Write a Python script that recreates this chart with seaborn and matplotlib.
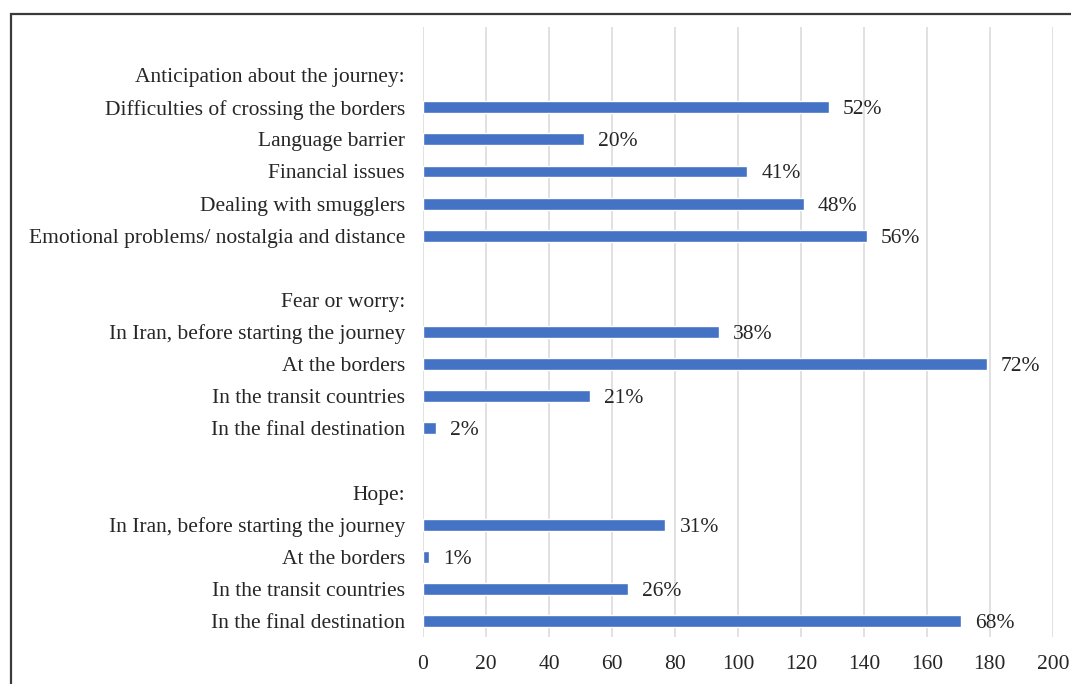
import matplotlib
matplotlib.use("Agg")
import matplotlib.pyplot as plt
from matplotlib.patches import Rectangle
import pandas as pd
import seaborn as sns

# Survey responses (counts) with the share printed beside each bar
group_titles = ["Anticipation about the journey:", "Fear or worry:", "Hope:"]

anticipation_items = [
    "Difficulties of crossing the borders",
    "Language barrier",
    "Financial issues",
    "Dealing with smugglers",
    "Emotional problems/ nostalgia and distance",
]
anticipation_counts = [129, 51, 103, 121, 141]
anticipation_pct = ["52%", "20%", "41%", "48%", "56%"]

fear_items = [
    "In Iran, before starting the journey",
    "At the borders",
    "In the transit countries",
    "In the final destination",
]
fear_counts = [94, 179, 53, 4]
fear_pct = ["38%", "72%", "21%", "2%"]

hope_items = [
    "In Iran, before starting the journey",
    "At the borders",
    "In the transit countries",
    "In the final destination",
]
hope_counts = [77, 2, 65, 171]
hope_pct = ["31%", "1%", "26%", "68%"]

x_ticks = [0, 20, 40, 60, 80, 100, 120, 140, 160, 180, 200]

# Build the row layout: title row, items, then a spacer between groups
groups = [
    (group_titles[0], anticipation_items, anticipation_counts, anticipation_pct),
    (group_titles[1], fear_items, fear_counts, fear_pct),
    (group_titles[2], hope_items, hope_counts, hope_pct),
]
row_keys, row_text = [], []
bar_rows = []
for gi, (title, items, counts, pcts) in enumerate(groups):
    row_keys.append(f"r{len(row_keys):02d}")
    row_text.append(title)
    for item, c, p in zip(items, counts, pcts):
        key = f"r{len(row_keys):02d}"
        row_keys.append(key)
        row_text.append(item)
        bar_rows.append({"row": key, "count": c, "pct": p})
    if gi < len(groups) - 1:
        row_keys.append(f"r{len(row_keys):02d}")
        row_text.append("")

df = pd.DataFrame(bar_rows)

sns.set_theme(style="white")
plt.rcParams["font.family"] = ["Liberation Serif", "DejaVu Serif"]

FS = 15.5
TXT = "#262626"

fig = plt.figure(figsize=(10.71, 6.84), dpi=100)
ax = fig.add_axes([0.395, 0.0687, 0.588, 0.8918])

sns.barplot(data=df, x="count", y="row", order=row_keys, orient="h",
            color="#4472C4", width=0.37, saturation=1, errorbar=None, ax=ax)

for _, r in df.iterrows():
    ax.annotate(r["pct"], xy=(r["count"], row_keys.index(r["row"])),
                xytext=(10, 0), textcoords="offset points",
                ha="left", va="center_baseline", fontsize=FS, color=TXT)

ax.set_xlim(0, 200)
ax.set_ylim(len(row_keys) - 0.5, -1.5)
ax.set_xticks(x_ticks)
ax.set_xticklabels([str(t) for t in x_ticks], fontsize=FS, color=TXT)
ax.set_yticks(range(len(row_keys)))
ax.set_yticklabels(row_text, fontsize=FS, color=TXT)
ax.tick_params(axis="x", length=0, pad=13)
ax.tick_params(axis="y", length=0, pad=13)
ax.set_xlabel("")
ax.set_ylabel("")
ax.grid(axis="x", color="#d9d9d9", linewidth=1.1)
ax.grid(axis="y", visible=False)
ax.set_axisbelow(True)
for s in ax.spines.values():
    s.set_visible(False)

# Outer frame around the figure panel
fig.patches.append(Rectangle((11 / 1071, -0.05), 1.1, 1.05 - 14 / 684,
                             transform=fig.transFigure, fill=False,
                             edgecolor="#3a3a3a", linewidth=1.6))

fig.savefig("out.png", dpi=100)
